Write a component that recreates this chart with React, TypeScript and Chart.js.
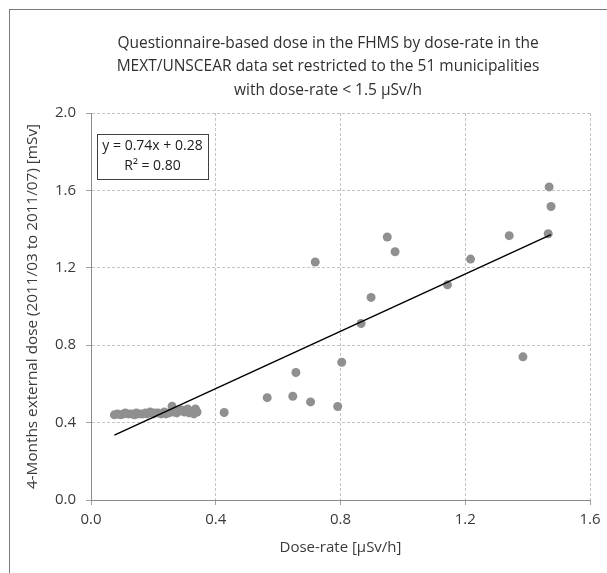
import React, { useEffect, useRef } from "react";
import { Chart, registerables } from "chart.js";

Chart.register(...registerables);

// Dose-rate [µSv/h]
const doseRate = [
  0.075, 0.085, 0.095, 0.105, 0.11, 0.12, 0.13, 0.14, 0.145, 0.155, 0.165, 0.175,
  0.18, 0.19, 0.2, 0.205, 0.215, 0.225, 0.235, 0.24, 0.25, 0.26, 0.265, 0.275,
  0.28, 0.29, 0.3, 0.31, 0.315, 0.33, 0.335, 0.34,
  0.427, 0.565, 0.647, 0.657, 0.704, 0.719, 0.791, 0.804, 0.866, 0.898, 0.95,
  0.975, 1.143, 1.217, 1.385, 1.341, 1.466, 1.469, 1.475,
];
// 4-Months external dose [mSv]
const dose = [
  0.44, 0.445, 0.44, 0.445, 0.45, 0.445, 0.445, 0.44, 0.45, 0.445, 0.445, 0.45,
  0.445, 0.455, 0.445, 0.45, 0.45, 0.445, 0.455, 0.445, 0.45, 0.485, 0.455, 0.45,
  0.46, 0.465, 0.455, 0.47, 0.45, 0.445, 0.47, 0.455,
  0.452, 0.529, 0.536, 0.659, 0.507, 1.23, 0.483, 0.712, 0.912, 1.047, 1.359,
  1.283, 1.112, 1.245, 0.74, 1.366, 1.376, 1.618, 1.517,
];

const slope = 0.74;
const intercept = 0.28;
const equationLines = ["y = 0.74x + 0.28", "R² = 0.80"];

const titleLines = [
  "Questionnaire-based dose in the FHMS by dose-rate in the",
  "MEXT/UNSCEAR data set restricted to the 51 municipalities",
  "with dose-rate < 1.5 µSv/h",
];
const xTitle = "Dose-rate [µSv/h]";
const yTitle = "4-Months external dose (2011/03 to 2011/07) [mSv]";

const FONT = "'Open Sans', sans-serif";
const TEXT = "#3a3a3a";

const equationBox = {
  id: "equationBox",
  afterDatasetsDraw(chart: any) {
    const { ctx, chartArea } = chart;
    const x = chartArea.left + 6;
    const y = chartArea.top + 21;
    const w = 111;
    const h = 45;
    ctx.save();
    ctx.fillStyle = "#ffffff";
    ctx.fillRect(x, y, w, h);
    ctx.strokeStyle = "#404040";
    ctx.lineWidth = 1;
    ctx.strokeRect(x + 0.5, y + 0.5, w, h);
    ctx.fillStyle = "#202020";
    ctx.font = `14px ${FONT}`;
    ctx.textAlign = "center";
    ctx.textBaseline = "middle";
    ctx.fillText(equationLines[0], x + w / 2, y + 12);
    ctx.fillText(equationLines[1], x + w / 2, y + 32);
    ctx.restore();
  },
};

export default function App() {
  const ref = useRef<HTMLCanvasElement>(null);
  useEffect(() => {
    if (!ref.current) return;
    const pts = doseRate.map((x, i) => ({ x, y: dose[i] }));
    const xMin = Math.min(...doseRate);
    const xMax = Math.max(...doseRate);
    const trend = [
      { x: xMin, y: slope * xMin + intercept },
      { x: xMax, y: slope * xMax + intercept },
    ];
    const gridOpts: any = {
      color: "#c4c4c4",
      tickLength: 5,
      tickColor: "#a0a0a0",
      tickBorderDash: [],
    };
    const borderOpts: any = { color: "#8a8a8a", width: 1, dash: [3, 2] };
    const chart = new Chart(ref.current, {
      type: "scatter",
      data: {
        datasets: [
          {
            type: "line",
            data: trend,
            borderColor: "#000000",
            borderWidth: 1.5,
            pointRadius: 0,
            fill: false,
            order: 0,
          } as any,
          {
            data: pts,
            backgroundColor: "#909090",
            borderWidth: 0,
            pointRadius: 4.5,
            order: 1,
          },
        ],
      },
      options: {
        animation: false,
        responsive: false,
        layout: { padding: 0 },
        plugins: {
          legend: { display: false },
          tooltip: { enabled: false },
          title: {
            display: true,
            text: titleLines,
            color: "#303030",
            font: { family: FONT, size: 15.5, weight: "normal", lineHeight: 1.5 },
            padding: { top: 22, bottom: 11.25 },
          },
        },
        scales: {
          x: {
            type: "linear",
            min: 0,
            max: 1.6,
            afterFit: (s: any) => {
              s.height = 73;
            },
            ticks: {
              stepSize: 0.4,
              color: TEXT,
              font: { family: FONT, size: 15 },
              padding: 6,
              callback: (v: any) => Number(v).toFixed(1),
            },
            grid: gridOpts,
            border: borderOpts,
            title: {
              display: true,
              text: xTitle,
              color: TEXT,
              font: { family: FONT, size: 15 },
              padding: { top: 0, bottom: 16 },
            },
          },
          y: {
            type: "linear",
            min: 0,
            max: 2.0,
            afterFit: (s: any) => {
              s.width = 81;
            },
            ticks: {
              stepSize: 0.4,
              color: TEXT,
              font: { family: FONT, size: 15 },
              padding: 10,
              callback: (v: any) => Number(v).toFixed(1),
            },
            grid: gridOpts,
            border: borderOpts,
            title: {
              display: true,
              text: yTitle,
              color: TEXT,
              font: { family: FONT, size: 15.3 },
              padding: { top: 13, bottom: 0 },
            },
          },
          yRight: {
            type: "linear",
            position: "right",
            display: true,
            min: 0,
            max: 2.0,
            afterFit: (s: any) => {
              s.width = 56;
            },
            grid: { display: false, drawOnChartArea: false },
            ticks: { display: false },
            border: { display: false },
          },
        },
      },
      plugins: [equationBox],
    });
    return () => chart.destroy();
  }, []);

  return (
    <div
      style={{
        position: "fixed",
        left: 9,
        top: 9,
        width: 636,
        height: 564,
        borderLeft: "1px solid #7a7a7a",
        borderTop: "1px solid #7a7a7a",
      }}
    >
      <canvas ref={ref} width={636} height={563} style={{ display: "block" }} />
    </div>
  );
}
